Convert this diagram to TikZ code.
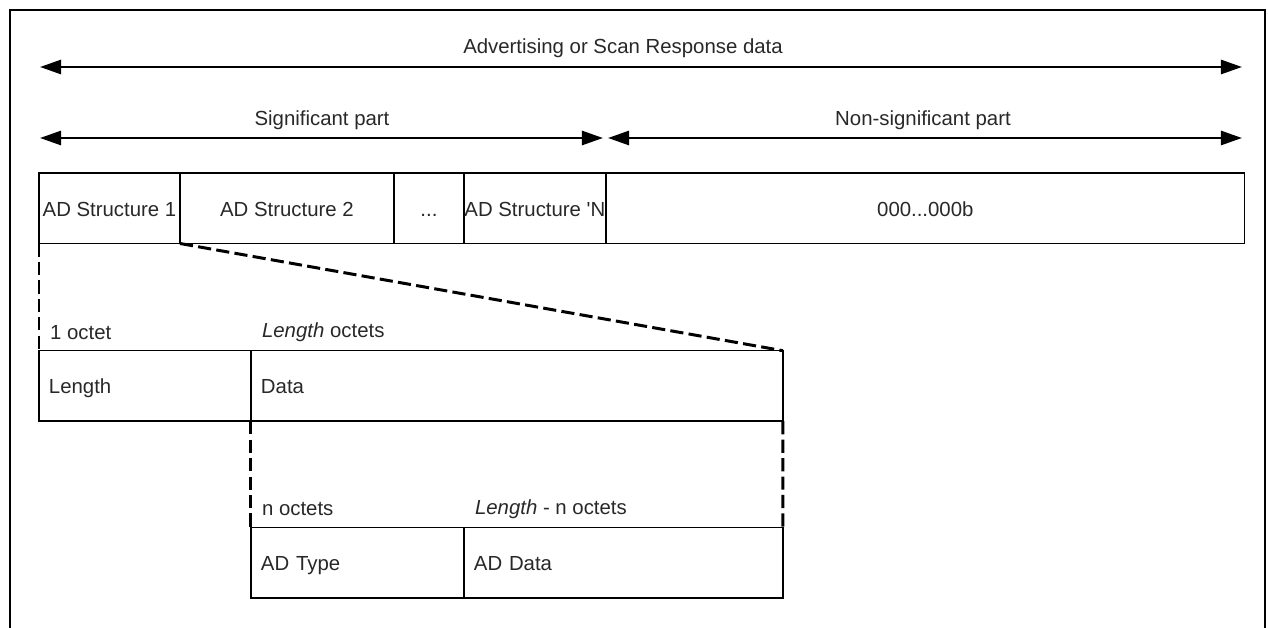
\documentclass[tikz,border=0pt]{standalone}
\usepackage{fontspec}
\setmainfont{Liberation Sans}
\usetikzlibrary{positioning}
\usetikzlibrary{calc}
\usetikzlibrary{arrows.meta}
\definecolor{ink}{RGB}{40,40,40}

\begin{document}
\begin{tikzpicture}[
    x=0.02cm, y=-0.02cm,
    node distance=0pt,
    >={Triangle[length=12pt,width=8pt]},
    font=\fontsize{11.6pt}{14pt}\selectfont,
    % node styles
    cell/.style = {
      draw,
      line width=0.8pt,
      minimum height=1.41cm,
      inner xsep=0pt,
      outer sep=0pt,
      text height=10pt,
      text depth=1pt,
      text=ink,
      anchor=north west
    },
    lcell/.style = {
      cell,
      inner xsep=0.2cm,
      align=left,
      text width=#1
    },
    tag/.style = {text=ink, inner sep=1pt},
    % arrow styles
    span/.style = {<->, line width=1.5pt},
    zoomline/.style = {line width=1.7pt, dash pattern=on 7.5pt off 3pt},
    frame/.style = {line width=1.4pt}
  ]
  \useasboundingbox (0,0) rectangle (1268,628);

  % --- Frame
  \draw[frame] (10,628) -- (10,10) -- (1265,10) -- (1265,628);

  % --- Top row
  \node[cell, minimum width=2.82cm] (s1) at (39,173) {AD Structure 1};
  \node[cell, minimum width=4.28cm, right=of s1] (s2) {AD Structure 2};
  \node[cell, minimum width=1.40cm, right=of s2] (dots) {...};
  \node[cell, minimum width=2.84cm, right=of dots] (sN) {AD Structure \textquotesingle N};
  \node[cell, minimum width=12.78cm, right=of sN] (pad) {000...000b};

  % --- Spans
  \coordinate (allL) at (40,67);
  \coordinate (allR) at (1242,67);
  \coordinate (sigL) at (40,138);
  \coordinate (sigR) at (603,138);
  \coordinate (nonL) at (608,138);
  \coordinate (nonR) at (1242,138);
  \node[tag] (allLbl) at (623,48) {Advertising or Scan Response data};
  \node[tag] (sigLbl) at (322,120) {Significant part};
  \node[tag] (nonLbl) at (923,120) {Non-significant part};
  \draw[span] (allL) -- (allR);
  \draw[span] (sigL) -- (sigR);
  \draw[span] (nonL) -- (nonR);

  % --- AD structure
  \node[lcell=3.84cm] (len) at (39,350.7) {Length};
  \node[lcell=10.24cm, right=of len] (data) {Data};
  \node[tag, anchor=west] (lenTag) at ($(len.north west)+(9,-18)$) {1 octet};
  \node[tag, anchor=west] (dataTag) at ($(data.north west)+(9,-18)$) {\textit{Length} octets};

  % --- AD data
  \node[lcell=3.86cm] (type) at ($(data.south west)+(0,106.3)$) {AD Type};
  \node[lcell=5.98cm, right=of type] (addata) {AD Data};
  \node[tag, anchor=west] (typeTag) at ($(type.north west)+(9,-18)$) {n octets};
  \node[tag, anchor=west] (addataTag) at ($(addata.north west)+(9,-18)$) {\textit{Length} - n octets};

  % --- Zoom lines
  \draw[zoomline] (s1.south west) -- (len.north west);
  \draw[zoomline] (s1.south east) -- (data.north east);
  \draw[zoomline] (data.south west) -- (type.north west);
  \draw[zoomline] (data.south east) -- (addata.north east);

\end{tikzpicture}
\end{document}
